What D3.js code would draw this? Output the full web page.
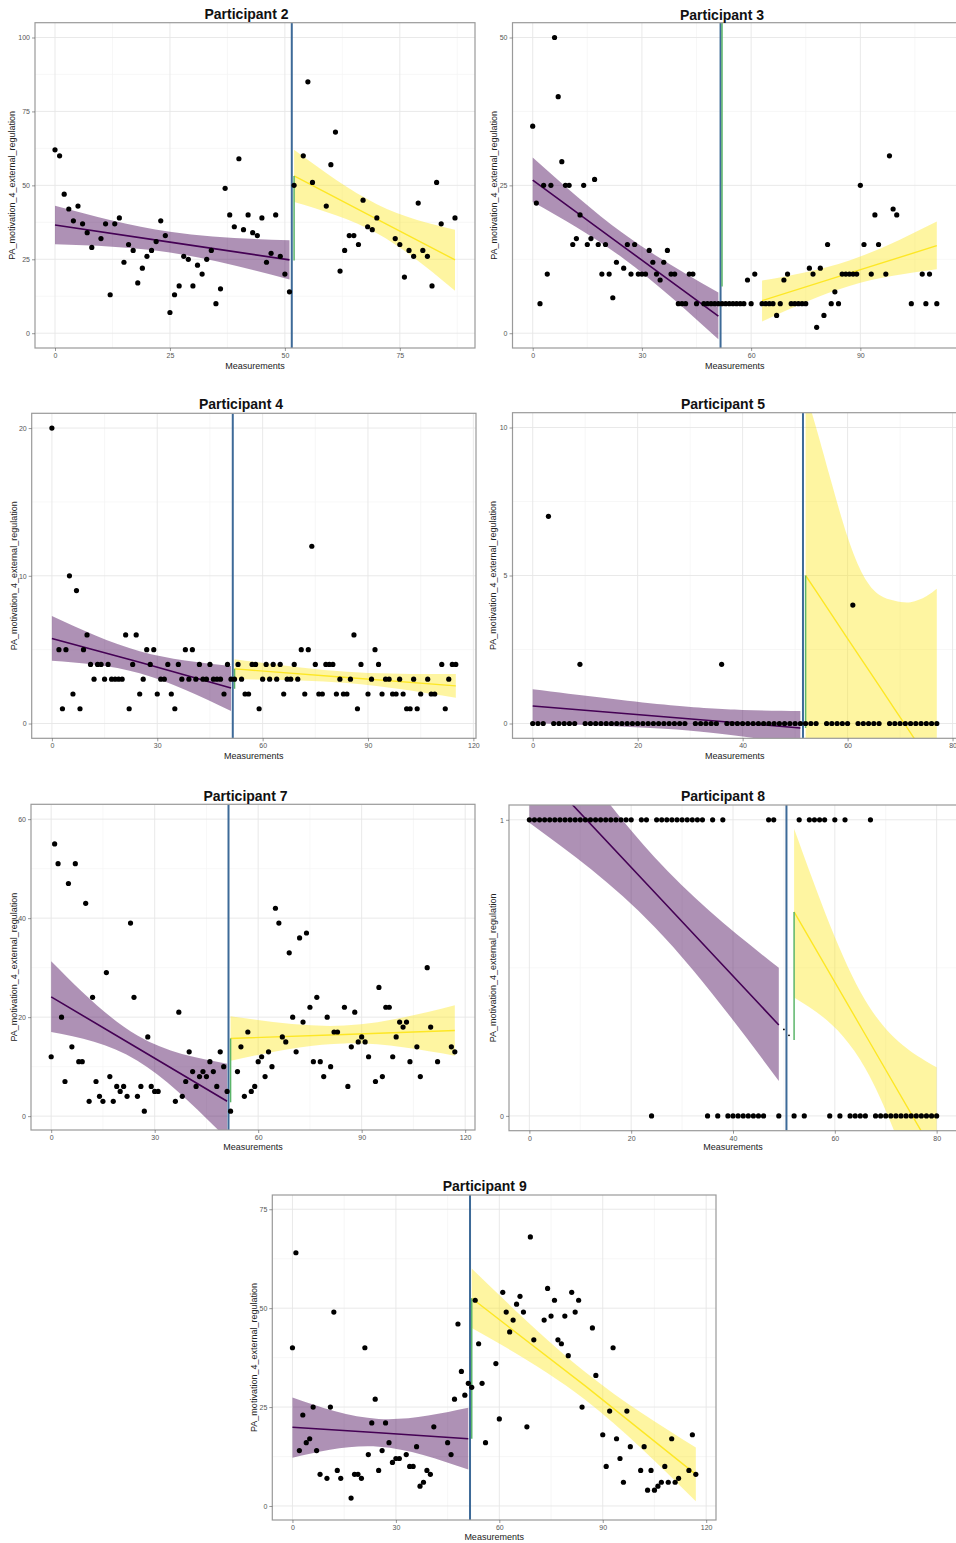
<!DOCTYPE html>
<html lang="en">
<head>
<meta charset="utf-8">
<title>PA_motivation_4_external_regulation by participant</title>
<script src="https://d3js.org/d3.v7.min.js"></script>
<style>
  body { margin: 0; background: #fff; }
  svg text { font-family: "Liberation Sans", Arial, sans-serif; }
</style>
</head>
<body>
<script>
// ---- data ----
// fit rows are [measurement, lower CI, fitted, upper CI]
var p2Meas = [0,1,2,3,4,5,6,7,8,10,11,12,13,14,15,16,17,18,19,20,21,22,23,24,25,26,27,28,29,30,31,32,33,34,35,36,37,38,39,40,41,42,43,44,45,46,47,48,49,50,51,52,54,55,56,59,60,61,62,63,64,65,66,67,68,69,70,74,75,76,77,78,79,80,81,82,83,84,87];
var p2Val = [62,60,47,42,38,43,37,34,29,32,37,13,37,39,24,30,28,17,22,26,28,31,38,33,7,13,16,26,25,16,23,20,25,28,10,15,49,40,36,59,35,40,34,33,39,24,27,40,26,20,14,50,60,85,51,43,57,68,21,28,33,33,30,45,36,35,39,32,30,19,28,26,44,28,26,16,51,37,39];
var p2Pre = [[0,30.1,36.6,43.1],[25,27.3,30.8,34.3],[51,18.2,24.8,31.4]];
var p2Post = [[52,44.4,53.2,62.0],[70,33.8,38.6,43.6],[87,14.4,24.8,35.0]];
var p2Jump = [52,24.6,53.2];

var p3Meas = [0,1,2,3,4,5,6,7,8,9,10,11,12,13,14,15,16,17,18,19,20,21,22,23,25,26,27,28,29,30,31,32,33,34,35,36,37,38,39,40,41,42,43,44,45,47,48,49,50,51,52,53,54,55,56,57,58,59,60,61,63,64,65,66,67,68,69,70,71,72,73,74,75,76,77,78,79,80,81,82,83,84,85,86,87,88,89,90,91,93,94,95,97,98,99,100,104,107,108,109,111];
var p3Val = [35,22,5,25,10,25,50,40,29,25,25,15,16,20,25,15,16,26,15,10,15,10,6,12,11,15,10,15,10,10,10,14,12,10,9,12,14,10,10,5,5,5,10,10,5,5,5,5,5,5,5,5,5,5,5,5,5,9,5,10,5,5,5,5,3,5,9,10,5,5,5,5,5,11,10,1,11,3,15,5,7,5,10,10,10,10,10,25,15,10,20,15,10,30,21,20,5,10,5,10,5];
var p3Pre = [[0,22.2,25.9,29.7],[25,12.6,14.6,16.8],[51,-1.0,2.9,6.9]];
var p3Post = [[63,2.0,5.5,8.9],[87,8.0,10.15,12.3],[111,10.8,14.8,18.9]];
var p3Jump = [52,7.9,56];

var p4Meas = [0,2,3,4,5,6,7,8,9,10,11,12,13,14,15,16,17,18,19,20,21,22,23,24,25,26,27,28,29,30,31,32,33,34,35,36,37,38,39,40,41,42,43,44,45,46,47,48,49,50,51,52,53,54,55,56,57,58,59,60,61,62,63,64,65,66,67,68,69,70,71,72,73,74,75,76,77,78,79,80,81,82,83,84,85,86,87,88,90,91,92,93,94,95,96,97,98,99,100,101,102,103,104,105,107,108,109,111,112,113,114,115];
var p4Val = [20,5,1,5,10,2,9,1,5,6,4,3,4,4,3,4,3,3,3,3,6,1,4,6,2,3,5,4,5,2,3,3,4,2,1,4,3,5,3,5,3,4,3,3,4,3,3,3,2,4,3,3,4,3,2,2,4,4,1,3,4,3,4,3,4,2,3,3,4,3,5,2,5,12,4,2,2,4,4,4,2,3,2,2,3,6,1,4,2,3,5,4,2,3,3,2,2,3,2,1,1,3,1,2,3,2,2,4,1,3,4,4];
var p4Pre = [[0,4.25,5.76,7.28],[25,3.4,4.15,4.9],[51,0.85,2.4,3.9]];
var p4Post = [[52,3.0,3.7,4.35],[84,2.75,3.12,3.5],[115,1.75,2.55,3.35]];
var p4Jump = [52,2.35,3.7];

var p5Meas = [0,1,2,3,4,5,6,7,8,9,10,11,12,13,14,15,16,17,18,19,20,21,22,23,24,25,26,27,28,29,31,32,33,34,35,36,37,38,39,40,41,42,43,44,45,46,47,48,49,50,51,52,53,54,56,57,58,59,60,61,62,63,64,65,66,68,69,70,71,72,73,74,75,76,77];
var p5Val = [0,0,0,7,0,0,0,0,0,2,0,0,0,0,0,0,0,0,0,0,0,0,0,0,0,0,0,0,0,0,0,0,0,0,0,2,0,0,0,0,0,0,0,0,0,0,0,0,0,0,0,0,0,0,0,0,0,0,0,4,0,0,0,0,0,0,0,0,0,0,0,0,0,0,0];
var p5Pre = [[0,0.02,0.59,1.16],[25,-0.18,0.23,0.64],[40,-0.44,0.01,0.46],[51,-0.72,-0.15,0.42]];
var p5Post = [[52,-1.2,5.0,11.2],[54,-1.06,4.47,10.0],[57,-0.76,3.67,8.1],[60,-0.56,2.87,6.3],[63,-0.86,2.07,5.0],[66,-1.8,1.28,4.35],[69,-3.2,0.48,4.15],[72,-4.74,-0.32,4.1],[75,-6.54,-1.12,4.3],[77,-7.85,-1.65,4.55]];
var p5Jump = [52,-0.15,5.0];

var p7Meas = [0,1,2,3,4,5,6,7,8,9,10,11,12,13,14,15,16,17,18,19,20,21,22,23,24,25,26,27,28,29,30,31,36,37,38,39,40,41,42,43,44,45,46,47,48,49,50,51,52,54,55,56,57,58,59,60,61,62,63,64,65,66,67,68,69,70,71,72,73,74,75,76,77,78,79,80,81,82,83,85,86,87,88,89,90,91,92,94,95,96,97,98,99,100,101,102,103,104,106,107,109,110,112,116,117];
var p7Val = [12,55,51,20,7,47,14,51,11,11,43,3,24,7,4,3,29,8,3,6,5,6,4,39,24,4,6,1,16,6,5,5,3,21,4,7,13,9,6,8,9,8,11,9,6,13,10,5,1,9,14,4,17,5,6,11,12,8,13,10,42,39,16,15,33,20,13,36,19,37,22,11,24,11,8,20,10,17,17,22,6,14,21,15,16,15,12,7,26,8,22,22,12,16,19,18,19,11,14,8,30,18,11,14,13];
var p7Pre = [[0,17.0,24.1,31.3],[25,11.2,13.76,16.3],[51,-4.6,3.0,10.6]];
var p7Post = [[52,11.2,15.7,20.2],[85,14.7,16.5,18.3],[117,12.2,17.3,22.4]];
var p7Jump = [52,2.8,15.7];

var p8Meas = [0,1,2,3,4,5,6,7,8,9,10,11,12,13,14,15,16,17,18,19,20,22,23,24,25,26,27,28,29,30,31,32,33,34,35,36,37,38,39,40,41,42,43,44,45,46,47,48,49,52,53,54,55,56,57,58,59,60,61,62,63,64,65,66,67,68,69,70,71,72,73,74,75,76,77,78,79,80];
var p8Val = [1,1,1,1,1,1,1,1,1,1,1,1,1,1,1,1,1,1,1,1,1,1,1,0,1,1,1,1,1,1,1,1,1,1,0,1,0,1,0,0,0,0,0,0,0,0,1,1,0,0,1,0,1,1,1,1,0,1,0,1,0,0,0,0,1,0,0,0,0,0,0,0,0,0,0,0,0,0];
var p8Pre = [[0,0.99,1.206,1.42],[24.5,0.64,0.757,0.875],[49,0.118,0.307,0.50]];
var p8Post = [[52,0.40,0.689,0.97],[66,0.16,0.274,0.39],[80,-0.45,-0.141,0.164]];
var p8Jump = [52,0.256,0.689];
var p8TinyMeas = [50,51];
var p8TinyVal = [0.292,0.272];

var p9Meas = [0,1,2,3,4,5,6,7,8,10,11,12,13,14,17,18,19,20,21,22,23,24,25,26,27,28,29,30,31,33,34,35,36,37,38,39,40,41,45,46,47,48,49,50,51,52,53,54,55,56,59,60,61,62,63,64,65,66,67,68,69,70,73,74,75,76,77,78,79,80,81,82,83,84,87,88,90,91,92,93,94,95,96,97,98,101,102,103,104,105,106,107,108,109,110,111,112,115,116,117];
var p9Val = [40,64,14,23,16,17,25,14,8,7,25,49,9,7,2,8,8,7,40,13,21,27,9,14,21,16,11,12,12,13,10,10,15,5,6,9,8,20,16,13,27,46,34,28,31,30,52,41,31,16,36,22,54,49,44,47,51,53,49,20,68,42,47,55,48,52,42,41,48,38,54,49,52,25,45,33,18,10,24,40,17,12,6,24,15,9,15,4,9,4,5,6,10,6,17,6,7,9,18,8];
var p9Pre = [[0,12.2,19.9,27.4],[25,15.0,18.5,22.0],[51,9.2,17.0,24.8]];
var p9Post = [[52,45.0,52.5,60.0],[85,26.8,30.3,33.8],[117,1.2,8.0,14.8]];
var p9Jump = [52,17.0,52.5];

var yLabel = "PA_motivation_4_external_regulation";
var xLabel = "Measurements";

// ---- layout of the seven panels ----
var panels = [
  {title: "Participant 2", meas: p2Meas, val: p2Val, pre: p2Pre, post: p2Post, jump: p2Jump, cut: 51.5,
   box: [35, 22.7, 475, 348], xDom: [-4.35, 91.35], yDom: [-5, 105],
   xTicks: [0, 25, 50, 75], yTicks: [0, 25, 50, 75, 100], titleX: 246.5, titleY: 19, yTitleX: 11.7, xTitleY: 369},
  {title: "Participant 3", meas: p3Meas, val: p3Val, pre: p3Pre, post: p3Post, jump: p3Jump, cut: 51.6,
   box: [512.5, 22.7, 957, 348], xDom: [-5.55, 116.55], yDom: [-2.5, 52.5],
   xTicks: [0, 30, 60, 90], yTicks: [0, 25, 50], titleX: 722, titleY: 20, yTitleX: 494, xTitleY: 369},
  {title: "Participant 4", meas: p4Meas, val: p4Val, pre: p4Pre, post: p4Post, jump: p4Jump, cut: 51.5,
   box: [31.7, 413.3, 476, 738.3], xDom: [-5.75, 120.75], yDom: [-1, 21],
   xTicks: [0, 30, 60, 90, 120], yTicks: [0, 10, 20], titleX: 241, titleY: 409, yTitleX: 13.3, xTitleY: 759},
  {title: "Participant 5", meas: p5Meas, val: p5Val, pre: p5Pre, post: p5Post, jump: p5Jump, cut: 51.5,
   box: [512.5, 412.7, 957, 738.3], xDom: [-3.85, 80.85], yDom: [-0.5, 10.5],
   xTicks: [0, 20, 40, 60, 80], yTicks: [0, 5, 10], titleX: 723, titleY: 409, yTitleX: 493, xTitleY: 759},
  {title: "Participant 7", meas: p7Meas, val: p7Val, pre: p7Pre, post: p7Post, jump: p7Jump, cut: 51.4,
   box: [31, 804.3, 475, 1130], xDom: [-5.85, 122.85], yDom: [-2.8, 63],
   xTicks: [0, 30, 60, 90, 120], yTicks: [0, 20, 40, 60], titleX: 245.5, titleY: 801, yTitleX: 13.3, xTitleY: 1150},
  {title: "Participant 8", meas: p8Meas, val: p8Val, pre: p8Pre, post: p8Post, jump: p8Jump, cut: 50.5,
   tinyMeas: p8TinyMeas, tinyVal: p8TinyVal,
   box: [509, 805, 957, 1130.7], xDom: [-4, 84], yDom: [-0.05, 1.05],
   xTicks: [0, 20, 40, 60, 80], yTicks: [0, 1], titleX: 723, titleY: 801, yTitleX: 493, xTitleY: 1150},
  {title: "Participant 9", meas: p9Meas, val: p9Val, pre: p9Pre, post: p9Post, jump: p9Jump, cut: 51.5,
   box: [272.3, 1195, 716, 1520], xDom: [-5.85, 122.85], yDom: [-3.54, 78.6],
   xTicks: [0, 30, 60, 90, 120], yTicks: [0, 25, 50, 75], titleX: 484.7, titleY: 1190.5, yTitleX: 253.3, xTitleY: 1540}
];

var purple = "#440154", yellow = "#FDE725";

var svg = d3.select("body").append("svg")
    .attr("width", 956)
    .attr("height", 1543);
svg.append("rect").attr("width", 956).attr("height", 1543).attr("fill", "#fff");

// minor breaks half way between major ones, kept inside the domain
function minorOf(ticks, dom) {
    var st = ticks[1] - ticks[0], out = [];
    for (var i = -1; i < ticks.length; i++) {
        var v = ticks[0] + st * (i + 0.5);
        if (v > dom[0] && v < dom[1]) out.push(v);
    }
    return out;
}

panels.forEach(function (p, k) {
    var l = p.box[0], t = p.box[1], r = p.box[2], b = p.box[3];
    var x = d3.scaleLinear().domain(p.xDom).range([l, r]);
    var y = d3.scaleLinear().domain(p.yDom).range([b, t]);
    var g = svg.append("g");

    g.append("clipPath").attr("id", "clip" + k)
        .append("rect").attr("x", l).attr("y", t).attr("width", r - l).attr("height", b - t);

    // grid
    var grid = g.append("g");
    grid.selectAll(".xmin").data(minorOf(p.xTicks, p.xDom)).enter().append("line")
        .attr("x1", function (d) { return x(d); }).attr("x2", function (d) { return x(d); })
        .attr("y1", t).attr("y2", b).attr("stroke", "#f3f3f3").attr("stroke-width", 0.7);
    grid.selectAll(".ymin").data(minorOf(p.yTicks, p.yDom)).enter().append("line")
        .attr("y1", function (d) { return y(d); }).attr("y2", function (d) { return y(d); })
        .attr("x1", l).attr("x2", r).attr("stroke", "#f3f3f3").attr("stroke-width", 0.7);
    grid.selectAll(".xmaj").data(p.xTicks).enter().append("line")
        .attr("x1", function (d) { return x(d); }).attr("x2", function (d) { return x(d); })
        .attr("y1", t).attr("y2", b).attr("stroke", "#e6e6e6").attr("stroke-width", 0.9);
    grid.selectAll(".ymaj").data(p.yTicks).enter().append("line")
        .attr("y1", function (d) { return y(d); }).attr("y2", function (d) { return y(d); })
        .attr("x1", l).attr("x2", r).attr("stroke", "#e6e6e6").attr("stroke-width", 0.9);

    var plot = g.append("g").attr("clip-path", "url(#clip" + k + ")");

    var band = d3.area()
        .x(function (d) { return x(d[0]); })
        .y0(function (d) { return y(d[1]); })
        .y1(function (d) { return y(d[3]); })
        .curve(d3.curveNatural);
    var fit = d3.line()
        .x(function (d) { return x(d[0]); })
        .y(function (d) { return y(d[2]); });

    plot.append("path").datum(p.pre).attr("d", band).attr("fill", purple).attr("fill-opacity", 0.43);
    plot.append("path").datum(p.post).attr("d", band).attr("fill", yellow).attr("fill-opacity", 0.43);
    plot.append("path").datum(p.pre).attr("d", fit).attr("fill", "none").attr("stroke", purple).attr("stroke-width", 1.6);
    plot.append("path").datum(p.post).attr("d", fit).attr("fill", "none").attr("stroke", yellow).attr("stroke-width", 1.4);

    // phase change line and level jump
    plot.append("line")
        .attr("x1", x(p.cut)).attr("x2", x(p.cut)).attr("y1", t).attr("y2", b)
        .attr("stroke", "#3d6a98").attr("stroke-width", 2);
    plot.append("line")
        .attr("x1", x(p.jump[0])).attr("x2", x(p.jump[0]))
        .attr("y1", y(p.jump[1])).attr("y2", y(p.jump[2]))
        .attr("stroke", "#5bb56a").attr("stroke-width", 1.5);

    plot.selectAll("circle.pt").data(p.meas).enter().append("circle")
        .attr("cx", function (d) { return x(d); })
        .attr("cy", function (d, i) { return y(p.val[i]); })
        .attr("r", 2.6)
        .attr("fill", "#000");

    if (p.tinyMeas) {
        plot.selectAll("circle.tiny").data(p.tinyMeas).enter().append("circle")
            .attr("cx", function (d) { return x(d); })
            .attr("cy", function (d, i) { return y(p.tinyVal[i]); })
            .attr("r", 0.9)
            .attr("fill", "#000");
    }

    // border
    g.append("rect").attr("x", l).attr("y", t).attr("width", r - l).attr("height", b - t)
        .attr("fill", "none").attr("stroke", "#9a9a9a").attr("stroke-width", 1.2);

    // axes
    var ax = g.append("g").attr("transform", "translate(" + l + ",0)")
        .call(d3.axisLeft(y).tickValues(p.yTicks).tickFormat(d3.format("~g")).tickSize(3).tickPadding(2));
    var bx = g.append("g").attr("transform", "translate(0," + b + ")")
        .call(d3.axisBottom(x).tickValues(p.xTicks).tickFormat(d3.format("~g")).tickSize(3).tickPadding(2));
    [ax, bx].forEach(function (a) {
        a.select(".domain").remove();
        a.selectAll(".tick line").attr("stroke", "#555").attr("stroke-width", 0.6);
        a.selectAll(".tick text").attr("fill", "#555").attr("font-size", "7px")
            .attr("font-family", "'Liberation Sans', Arial, sans-serif");
    });

    // titles
    g.append("text").attr("x", p.titleX).attr("y", p.titleY)
        .attr("text-anchor", "middle").attr("font-size", "14px").attr("font-weight", "bold")
        .attr("fill", "#111").text(p.title);
    g.append("text").attr("x", (l + r) / 2).attr("y", p.xTitleY)
        .attr("text-anchor", "middle").attr("font-size", "9px").attr("fill", "#222").text(xLabel);
    g.append("text")
        .attr("transform", "translate(" + (p.yTitleX + 3.2) + "," + ((t + b) / 2) + ") rotate(-90)")
        .attr("text-anchor", "middle").attr("font-size", "9px").attr("fill", "#222").text(yLabel);
});
</script>
</body>
</html>
